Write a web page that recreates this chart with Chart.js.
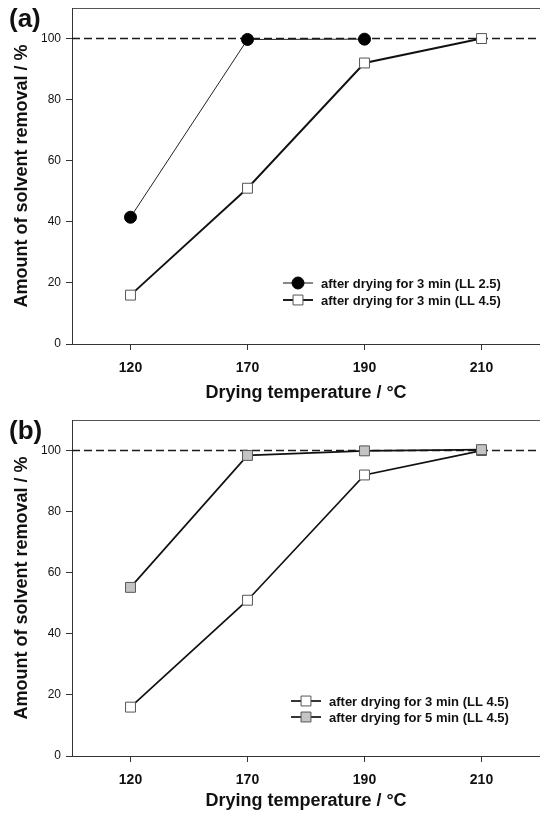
<!DOCTYPE html>
<html>
<head>
<meta charset="utf-8">
<script src="https://cdn.jsdelivr.net/npm/chart.js@4.4.1/dist/chart.umd.min.js"></script>
<style>
  html, body { margin: 0; padding: 0; background: #fff; }
  canvas { display: block; }
</style>
</head>
<body>
<canvas id="panelA" width="540" height="408"></canvas>
<canvas id="panelB" width="540" height="408"></canvas>
<script>
// data
const temperatures = ["120", "170", "190", "210"];
const yTicks = [0, 20, 40, 60, 80, 100];
const refLevel = 100;

const a_ll25_3min = [41.5, 99.7, 99.8, null];
const a_ll45_3min = [16, 51, 92, 100];

const b_ll45_3min = [16, 51, 92, 100];
const b_ll45_5min = [55.2, 98.4, 99.9, 100.3];

const labelsA = ["after drying for 3 min (LL 2.5)", "after drying for 3 min (LL 4.5)"];
const labelsB = ["after drying for 3 min (LL 4.5)", "after drying for 5 min (LL 4.5)"];

const FONT = "'Liberation Sans', Arial, sans-serif";

// dashed line at 100 % across the whole plot
const refLine = {
    id: 'refLine',
    beforeDatasetsDraw(chart) {
        const {ctx, chartArea, scales} = chart;
        const y = scales.y.getPixelForValue(refLevel);
        ctx.save();
        ctx.strokeStyle = '#1a1a1a';
        ctx.lineWidth = 1.6;
        ctx.setLineDash([8, 4]);
        ctx.beginPath();
        ctx.moveTo(chartArea.left, y);
        ctx.lineTo(chartArea.right, y);
        ctx.stroke();
        ctx.restore();
    }
};

// panel letter + legend with line-through-marker symbols
const extras = {
    id: 'extras',
    afterDraw(chart, args, opts) {
        const ctx = chart.ctx;
        ctx.save();
        ctx.fillStyle = '#111';
        ctx.font = "bold 26px " + FONT;
        ctx.textBaseline = 'middle';
        ctx.fillText(opts.letter, 9, opts.letterY);

        opts.rows.forEach((row, i) => {
            const ds = chart.data.datasets[row];
            const y = opts.y0 + i * opts.dy;
            ctx.strokeStyle = '#111';
            ctx.lineWidth = ds.borderWidth;
            ctx.setLineDash([]);
            ctx.beginPath();
            ctx.moveTo(opts.x0, y);
            ctx.lineTo(opts.x0 + 30, y);
            ctx.stroke();
            ctx.lineWidth = ds.pointBorderWidth;
            ctx.strokeStyle = ds.pointBorderColor;
            ctx.fillStyle = ds.pointBackgroundColor;
            ctx.beginPath();
            if (ds.pointStyle === 'circle') {
                ctx.arc(opts.x0 + 15, y, ds.pointRadius, 0, Math.PI * 2);
            } else {
                const s = ds.pointRadius * Math.SQRT1_2;
                ctx.rect(opts.x0 + 15 - s, y - s, 2 * s, 2 * s);
            }
            ctx.fill();
            ctx.stroke();
            ctx.fillStyle = '#111';
            ctx.font = "bold 13px " + FONT;
            ctx.fillText(ds.label, opts.x0 + 38, y + 1);
        });
        ctx.restore();
    }
};

function noPad(s) {
    s.paddingTop = 0; s.paddingBottom = 0; s.paddingLeft = 0; s.paddingRight = 0;
}

function makeOptions(topPad, bottomH, ext) {
    return {
        responsive: false,
        animation: false,
        layout: { autoPadding: false, padding: { top: topPad, right: 0, left: 0, bottom: 0 } },
        plugins: {
            legend: { display: false },
            tooltip: { enabled: false },
            extras: ext
        },
        scales: {
            x: {
                type: 'category',
                offset: true,
                grid: { display: true, drawOnChartArea: false, drawTicks: true, tickLength: 6, color: '#333', offset: false },
                border: { display: true, color: '#333', width: 1 },
                ticks: { color: '#111', font: { family: FONT, size: 14, weight: 'bold' }, padding: 10, maxRotation: 0 },
                title: { display: true, text: 'Drying temperature / °C', color: '#111',
                         font: { family: FONT, size: 18, weight: 'bold' }, padding: { top: 0, bottom: 4 } },
                afterFit(s) { s.height = bottomH; noPad(s); }
            },
            x2: {
                type: 'category',
                offset: true,
                position: 'top',
                grid: { display: false },
                border: { display: true, color: '#555', width: 1 },
                ticks: { display: false },
                afterFit(s) { s.height = 0; noPad(s); }
            },
            y: {
                min: 0,
                max: 110,
                grid: { display: true, drawOnChartArea: false, drawTicks: true, tickLength: 6, color: '#333' },
                border: { display: true, color: '#333', width: 1 },
                afterBuildTicks(s) { s.ticks = yTicks.map(v => ({ value: v })); },
                ticks: { color: '#111', font: { family: FONT, size: 12 }, padding: 5 },
                title: { display: true, text: 'Amount of solvent removal / %', color: '#111',
                         font: { family: FONT, size: 18, weight: 'bold' }, padding: { top: 11, bottom: 0 } },
                afterFit(s) { s.width = 72; noPad(s); }
            }
        }
    };
}

new Chart(document.getElementById('panelA'), {
    type: 'line',
    data: {
        labels: temperatures,
        datasets: [
            {
                label: labelsA[0],
                data: a_ll25_3min,
                borderColor: '#222',
                borderWidth: 1,
                pointStyle: 'circle',
                pointRadius: 6,
                pointBackgroundColor: '#000',
                pointBorderColor: '#000',
                pointBorderWidth: 1,
                order: 2
            },
            {
                label: labelsA[1],
                data: a_ll45_3min,
                borderColor: '#111',
                borderWidth: 1.9,
                pointStyle: 'rect',
                pointRadius: 7,
                pointBackgroundColor: '#fff',
                pointBorderColor: '#555',
                pointBorderWidth: 1,
                order: 1
            }
        ]
    },
    options: makeOptions(8, 64, { letter: '(a)', letterY: 20, x0: 283, y0: 283, dy: 17, rows: [0, 1] }),
    plugins: [refLine, extras]
});

new Chart(document.getElementById('panelB'), {
    type: 'line',
    data: {
        labels: temperatures,
        datasets: [
            {
                label: labelsB[0],
                data: b_ll45_3min,
                borderColor: '#111',
                borderWidth: 1.7,
                pointStyle: 'rect',
                pointRadius: 7,
                pointBackgroundColor: '#fff',
                pointBorderColor: '#555',
                pointBorderWidth: 1,
                order: 2
            },
            {
                label: labelsB[1],
                data: b_ll45_5min,
                borderColor: '#111',
                borderWidth: 1.7,
                pointStyle: 'rect',
                pointRadius: 7,
                pointBackgroundColor: '#c4c4c4',
                pointBorderColor: '#555',
                pointBorderWidth: 1,
                order: 1
            }
        ]
    },
    options: makeOptions(12, 60, { letter: '(b)', letterY: 24, x0: 291, y0: 293, dy: 16, rows: [0, 1] }),
    plugins: [refLine, extras]
});
</script>
</body>
</html>
